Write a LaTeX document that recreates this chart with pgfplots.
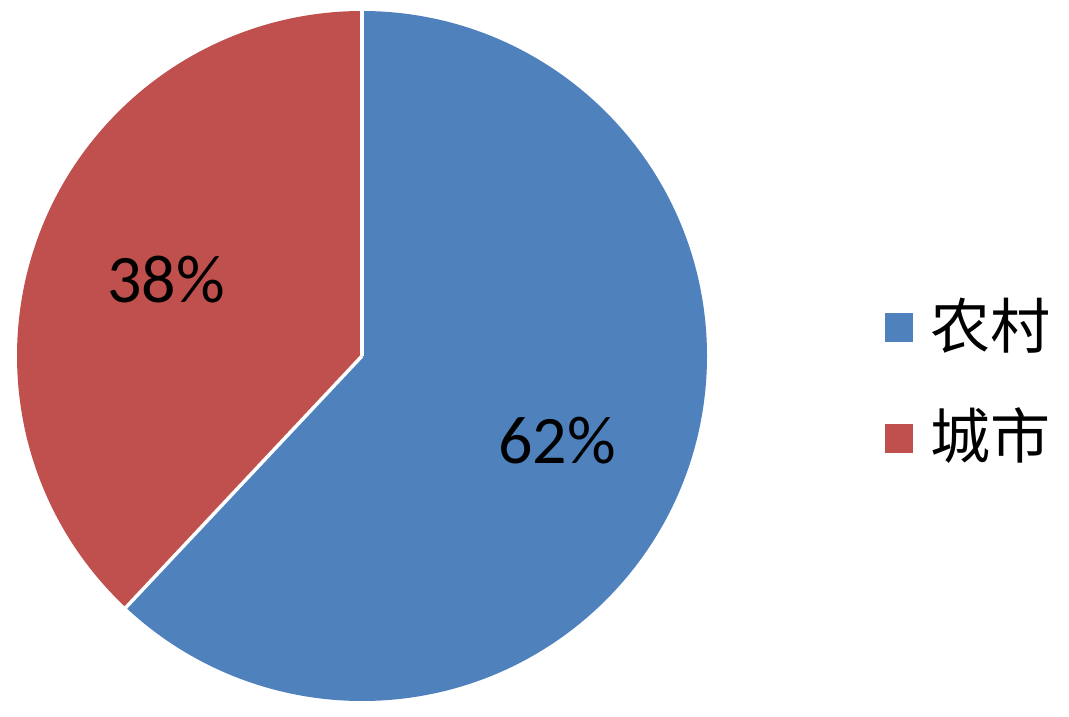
\documentclass[border=0pt]{standalone}
\usepackage{pgfplots}
\pgfplotsset{compat=1.18}
\usepackage{pgfplotstable}
\usepackage{fontspec}
\setmainfont{Carlito}
\newfontfamily\cjk{Noto Sans CJK SC}
\definecolor{pieblue}{HTML}{4F81BD}
\definecolor{piered}{HTML}{C0504D}
\pgfplotstableread{
id value
1 62
2 38
}\piedata
\begin{document}
\begin{tikzpicture}
\pgfplotstablegetelem{0}{value}\of\piedata \let\va\pgfplotsretval
\pgfplotstablegetelem{1}{value}\of\piedata \let\vb\pgfplotsretval
\pgfmathsetmacro\angA{\va/(\va+\vb)*360}
\pgfmathsetmacro\endA{90-\angA}
\begin{axis}[x=1pt,y=1pt,xmin=0,xmax=1069,ymin=0,ymax=716,hide axis,scale only axis,clip=false]
\fill[pieblue] (axis cs:362,360) -- ++(90:345) arc[start angle=90,end angle=\endA,radius=345] -- cycle;
\fill[piered] (axis cs:362,360) -- ++(\endA:345) arc[start angle=\endA,end angle=-270,radius=345] -- cycle;
\draw[white,line width=3.5pt] (axis cs:362,360) -- ++(90:347);
\draw[white,line width=3.5pt] (axis cs:362,360) -- ++(\endA:347);
\node[font=\fontsize{68}{80}\selectfont,inner sep=0] at (axis cs:166,436) {38\%};
\node[font=\fontsize{68}{80}\selectfont,inner sep=0] at (axis cs:557,275) {62\%};
\fill[pieblue] (axis cs:885,374) rectangle (axis cs:913,403);
\fill[piered] (axis cs:885,263) rectangle (axis cs:913,292);
\node[anchor=west,inner sep=0,font=\cjk\fontsize{60}{70}\selectfont] at (axis cs:930,390) {农村};
\node[anchor=west,inner sep=0,font=\cjk\fontsize{60}{70}\selectfont] at (axis cs:930,280) {城市};
\end{axis}
\pgfresetboundingbox
\path[use as bounding box] (current axis.south west) rectangle (current axis.north east);
\end{tikzpicture}
\end{document}
